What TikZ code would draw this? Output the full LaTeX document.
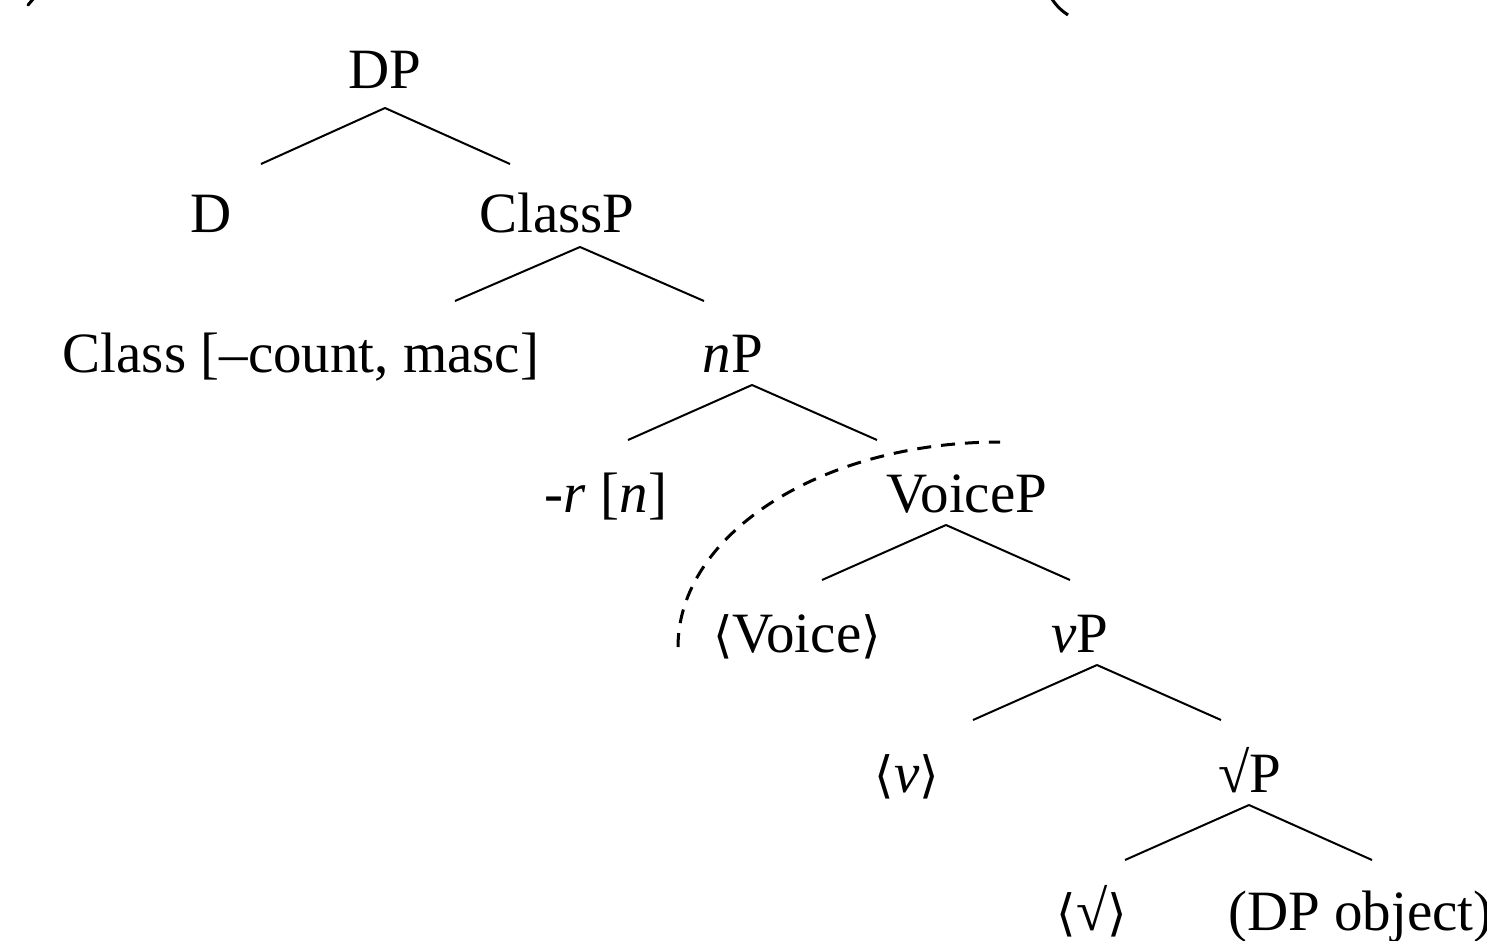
\documentclass[tikz,border=0pt]{standalone}
\usepackage{fontspec}
\setmainfont{Liberation Serif}
\newfontfamily\angfont{DejaVu Sans}
\newcommand{\lan}{{\angfont\fontsize{50}{60}\selectfont ⟨}}
\newcommand{\ran}{{\angfont\fontsize{50}{60}\selectfont ⟩}}
\begin{document}
\begin{tikzpicture}[x=1pt,y=-1pt,
  lab/.style={anchor=base,inner sep=0pt,font=\fontsize{57}{68}\selectfont},
  br/.style={line width=2pt},
  arcline/.style={line width=3pt,dash pattern=on 14pt off 10pt},
  frag/.style={line width=3pt}]
\useasboundingbox (0,0) rectangle (1487,941);
\node[lab] (dp) at (385,89) {DP};
\node[lab] (d) at (211,233) {D};
\node[lab] (classp) at (557,233) {ClassP};
\node[lab] (class) at (301,372) {Class [–count, masc]};
\node[lab] (np) at (733,372) {\textit{n}P};
\node[lab] (r) at (606,512) {-\textit{r} [\textit{n}]};
\node[lab] (voicep) at (967,512) {VoiceP};
\node[lab] (voice) at (797,652) {\lan Voice\ran};
\node[lab] (vp) at (1080,652) {\textit{v}P};
\node[lab] (v) at (907,792) {\lan\textit{v}\ran};
\node[lab] (rootp) at (1250,792) {√P};
\node[lab] (root) at (1092,930) {\lan √\ran};
\node[lab,anchor=base west] (obj) at (1228,930) {(DP object)};
% branches
\coordinate (dpb) at (385,108);
\draw[br] (dpb) -- (261,164) (dpb) -- (510,164);
\coordinate (classpb) at (580,247);
\draw[br] (classpb) -- (455,301) (classpb) -- (704,301);
\coordinate (npb) at (752,385);
\draw[br] (npb) -- (628,440) (npb) -- (877,440);
\coordinate (voicepb) at (946,525);
\draw[br] (voicepb) -- (822,580) (voicepb) -- (1070,580);
\coordinate (vpb) at (1097,665);
\draw[br] (vpb) -- (973,720) (vpb) -- (1221,720);
\coordinate (rootpb) at (1249,805);
\draw[br] (rootpb) -- (1125,860) (rootpb) -- (1372,860);
% dashed arc
\coordinate (arcstart) at (678,647);
\draw[arcline] (arcstart) arc[start angle=180,end angle=90,x radius=322,y radius=-205];
% fragments at top edge
\coordinate (f1) at (34,-2);
\draw[frag,line cap=round] (f1) -- (28,5);
\coordinate (f2) at (1050,-4);
\draw[frag] (f2) .. controls (1056,6) and (1062,11) .. (1068,15);
\end{tikzpicture}
\end{document}
